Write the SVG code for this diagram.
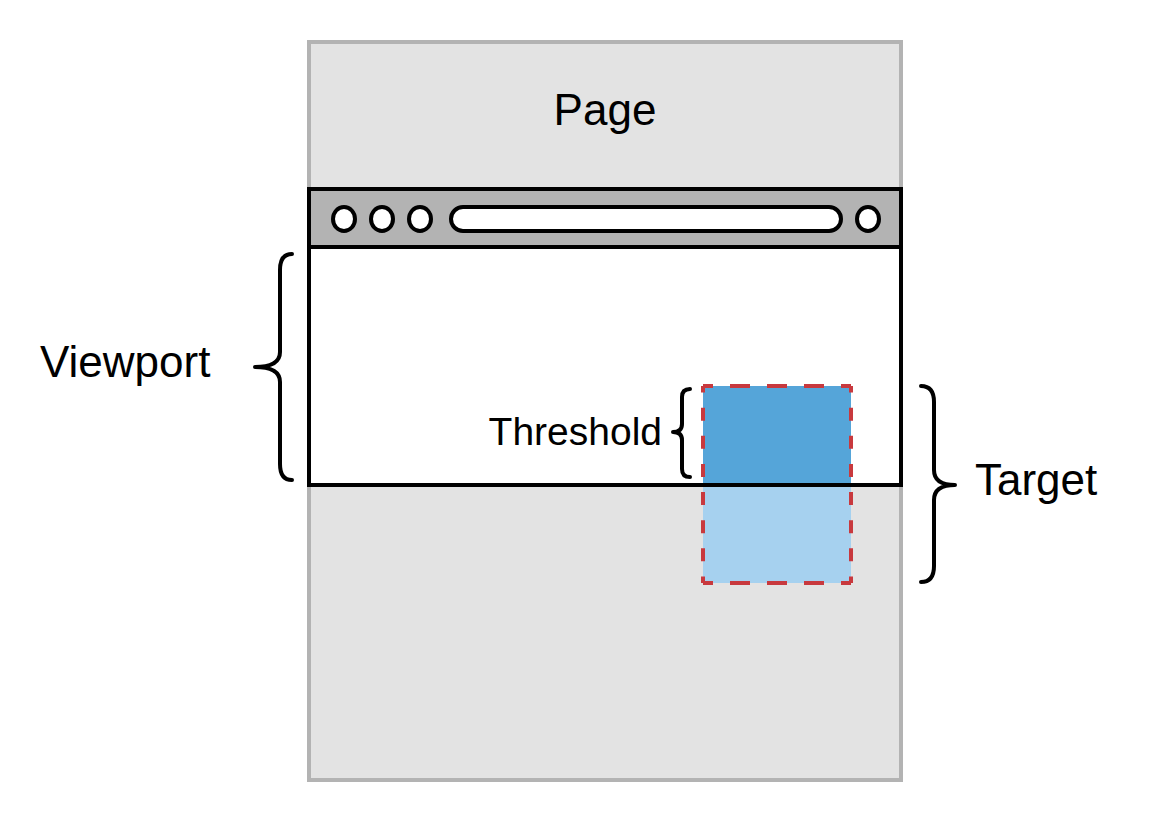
<svg xmlns="http://www.w3.org/2000/svg" width="1158" height="830" viewBox="0 0 1158 830">
<style>
.lbl{font-family:"Liberation Sans",Arial,sans-serif;fill:#000}
.brace{fill:none;stroke:#000;stroke-width:4;stroke-linecap:round;stroke-linejoin:round}
.btn{fill:#fff;stroke:#000;stroke-width:4}
.dash{stroke:#c8393e;stroke-width:4;fill:none}
.dh{stroke-dasharray:20 17;stroke-dashoffset:10}
.dv{stroke-dasharray:13 15.14;stroke-dashoffset:6.5}
</style>
<rect width="1158" height="830" fill="#fff"/>
<g id="page">
<rect x="309" y="42" width="592" height="738" fill="#e3e3e3" stroke="#b3b3b3" stroke-width="4"/>
<text class="lbl" x="605" y="125" font-size="44" text-anchor="middle">Page</text>
</g>
<g id="viewport">
<rect x="309" y="247" width="592" height="238" fill="#fff" stroke="#000" stroke-width="4"/>
</g>
<g id="browser-bar">
<rect x="309" y="189" width="592" height="58" fill="#b3b3b3" stroke="#000" stroke-width="4"/>
<ellipse class="btn" cx="344" cy="219" rx="11" ry="12"/>
<ellipse class="btn" cx="382" cy="219" rx="11" ry="12"/>
<ellipse class="btn" cx="420" cy="219" rx="11" ry="12"/>
<rect class="btn" x="451" y="207" width="390" height="24" rx="12" ry="12"/>
<ellipse class="btn" cx="868" cy="219" rx="11" ry="12"/>
</g>
<g id="target">
<rect x="703" y="386" width="148" height="99" fill="#55a5d9"/>
<rect x="703" y="485" width="148" height="98" fill="#a6d1ef"/>
<line x1="703" y1="485" x2="851" y2="485" stroke="#000" stroke-width="4"/>
<line class="dash dh" x1="703" y1="386" x2="851" y2="386"/>
<line class="dash dh" x1="703" y1="583" x2="851" y2="583"/>
<line class="dash dv" x1="703" y1="386" x2="703" y2="583"/>
<line class="dash dv" x1="851" y1="386" x2="851" y2="583"/>
</g>
<g id="connectors">
<path class="brace" d="M292,254 Q280,254 280,270 L280,352 Q280,367 255,367 Q280,367 280,382 L280,464 Q280,480 292,480"/>
<path class="brace" d="M690,389 Q682,389 682,397 L682,424 Q682,432 673,432 Q682,432 682,440 L682,469 Q682,477 690,477"/>
<path class="brace" d="M921,386 Q934,386 934,402 L934,470 Q934,485 955,485 Q934,485 934,500 L934,566 Q934,582 921,582"/>
</g>
<g id="labels">
<text class="lbl" x="40" y="377" font-size="44">Viewport</text>
<text class="lbl" x="662" y="445" font-size="39" text-anchor="end">Threshold</text>
<text class="lbl" x="975" y="495" font-size="44">Target</text>
</g>
</svg>
